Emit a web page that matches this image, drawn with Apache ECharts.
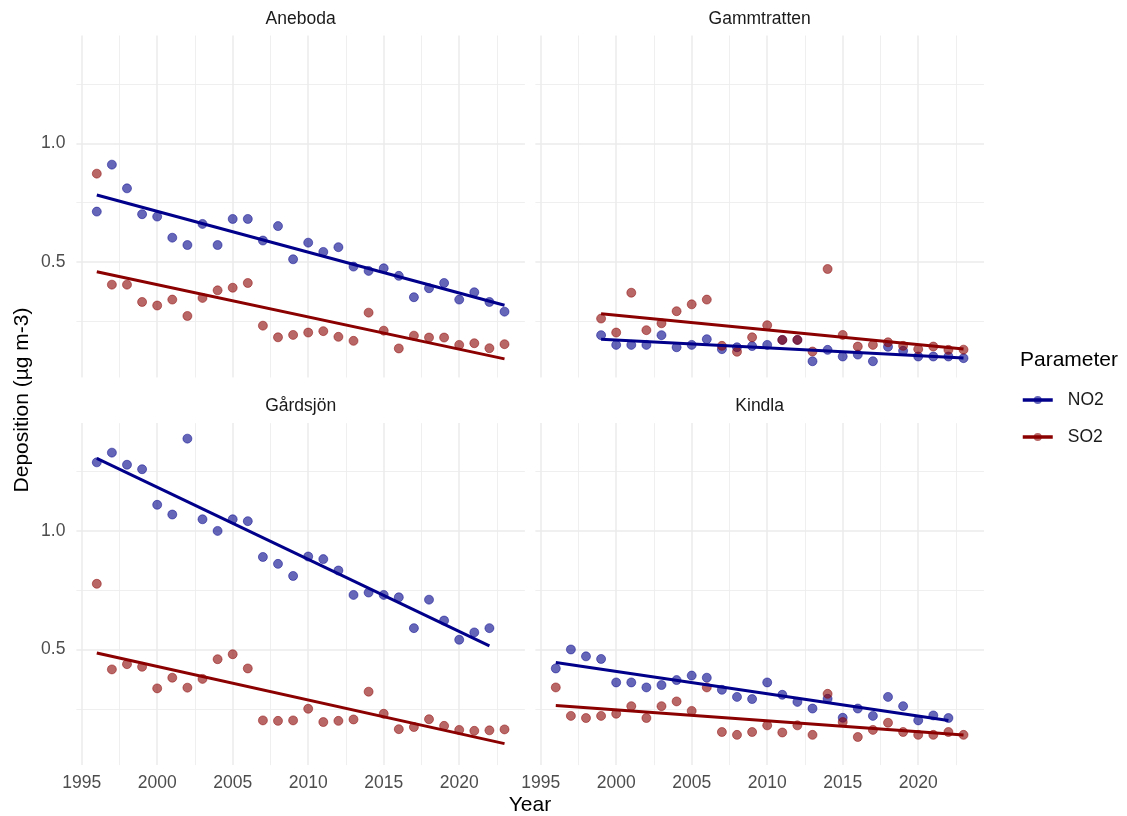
<!DOCTYPE html>
<html>
<head>
<meta charset="utf-8">
<script src="https://cdn.jsdelivr.net/npm/echarts@6.0.0/dist/echarts.min.js"></script>
<style>
  html, body { margin: 0; padding: 0; background: #ffffff; }
  #chart { width: 1127px; height: 816px; }
</style>
</head>
<body>
<div id="chart"></div>
<script>
// data read off the facets, one value per year (null = no measurement)
const years = [1996, 1997, 1998, 1999, 2000, 2001, 2002, 2003, 2004, 2005, 2006, 2007, 2008, 2009,
  2010, 2011, 2012, 2013, 2014, 2015, 2016, 2017, 2018, 2019, 2020, 2021, 2022, 2023]

const anebodaNO2 = [0.712, 0.910, 0.810, 0.701, 0.691, 0.602, 0.571, 0.660, 0.571, 0.681, 0.681, 0.590, 0.651, 0.511,
  0.581, 0.542, 0.562, 0.480, 0.462, 0.473, 0.441, 0.351, 0.389, 0.411, 0.341, 0.372, 0.331, 0.290]
const anebodaSO2 = [0.872, 0.404, 0.404, 0.331, 0.316, 0.341, 0.272, 0.348, 0.380, 0.391, 0.411, 0.231, 0.182, 0.192,
  0.202, 0.208, 0.184, 0.167, 0.286, 0.210, 0.135, 0.189, 0.181, 0.181, 0.150, 0.157, 0.136, 0.153]

const gammtrattenNO2 = [null, null, null, 0.191, 0.150, 0.150, 0.150, 0.191, 0.140, 0.150, 0.174, 0.132, 0.140, 0.145,
  0.150, 0.171, 0.171, 0.081, 0.129, 0.101, 0.109, 0.081, 0.142, 0.125, 0.101, 0.101, 0.101, 0.094]
const gammtrattenSO2 = [null, null, null, 0.261, 0.202, 0.370, 0.212, 0.241, 0.292, 0.321, 0.341, 0.146, 0.121, 0.182,
  0.233, 0.171, 0.171, 0.122, 0.470, 0.192, 0.143, 0.150, 0.161, 0.146, 0.132, 0.143, 0.129, 0.130]

const gardsjonNO2 = [1.289, 1.330, 1.279, 1.260, 1.110, 1.069, 1.389, 1.049, 1.000, 1.049, 1.041, 0.890, 0.861, 0.810,
  0.892, 0.881, 0.833, 0.730, 0.740, 0.730, 0.720, 0.590, 0.710, 0.622, 0.541, 0.572, 0.590, null]
const gardsjonSO2 = [0.777, 0.416, 0.438, 0.427, 0.336, 0.381, 0.339, 0.376, 0.459, 0.480, 0.420, 0.201, 0.199, 0.201,
  0.250, 0.194, 0.199, 0.205, 0.322, 0.229, 0.164, 0.173, 0.206, 0.178, 0.161, 0.157, 0.159, 0.163]

const kindlaNO2 = [0.420, 0.500, 0.471, 0.460, 0.361, 0.361, 0.340, 0.350, 0.371, 0.390, 0.381, 0.330, 0.300, 0.291,
  0.361, 0.309, 0.279, 0.251, 0.292, 0.212, 0.251, 0.220, 0.300, 0.261, 0.201, 0.222, 0.211, null]
const kindlaSO2 = [0.340, 0.220, 0.211, 0.220, 0.229, 0.261, 0.211, 0.261, 0.281, 0.241, 0.340, 0.152, 0.140, 0.152,
  0.180, 0.150, 0.180, 0.140, 0.313, 0.194, 0.131, 0.161, 0.191, 0.152, 0.140, 0.140, 0.152, 0.140]

// fitted trend lines, start and end
const anebodaNO2Trend = [[1996, 0.782], [2023, 0.317]]
const anebodaSO2Trend = [[1996, 0.458], [2023, 0.091]]
const gammtrattenNO2Trend = [[1999, 0.174], [2023, 0.095]]
const gammtrattenSO2Trend = [[1999, 0.281], [2023, 0.133]]
const gardsjonNO2Trend = [[1996, 1.306], [2022, 0.515]]
const gardsjonSO2Trend = [[1996, 0.485], [2023, 0.103]]
const kindlaNO2Trend = [[1996, 0.445], [2022, 0.201]]
const kindlaSO2Trend = [[1996, 0.264], [2023, 0.139]]

const stations = ['Aneboda', 'Gammtratten', 'Gårdsjön', 'Kindla']
const parameters = ['NO2', 'SO2']

// tick labels / grid lines
const xTicks = [1995, 2000, 2005, 2010, 2015, 2020]
const xMinorTicks = [1997.5, 2002.5, 2007.5, 2012.5, 2017.5, 2022.5]
const yTicks = [0.5, 1.0]
const yMinorTicks = [0.25, 0.75, 1.25]

const panelData = [
  [anebodaNO2, anebodaSO2, anebodaNO2Trend, anebodaSO2Trend],
  [gammtrattenNO2, gammtrattenSO2, gammtrattenNO2Trend, gammtrattenSO2Trend],
  [gardsjonNO2, gardsjonSO2, gardsjonNO2Trend, gardsjonSO2Trend],
  [kindlaNO2, kindlaSO2, kindlaNO2Trend, kindlaSO2Trend]
]

const FONT = '"Liberation Sans", Arial, Helvetica, sans-serif'
const lineColors = {NO2: '#00008B', SO2: '#8B0000'}
const pointColors = {NO2: 'rgba(0,0,139,0.6)', SO2: 'rgba(139,0,0,0.6)'}

const panelW = 448.5
const panelH = 342
const lefts = [76.4, 535.4]
const tops = [35.5, 423.1]
const xMin = 1994.65, xMax = 2024.35
const yMin = 0.0125, yMax = 1.4545

function toPoints(arr) {
  const out = []
  arr.forEach((v, i) => {
    if (v !== null) out.push([years[i], v])
  })
  return out
}

let chart = echarts.init(document.getElementById('chart'), null, {renderer: 'canvas'})

const grids = [], xAxes = [], yAxes = [], series = [], graphics = []

stations.forEach((name, g) => {
  const col = g % 2, row = Math.floor(g / 2)
  const left = lefts[col], top = tops[row]
  grids.push({left: left, top: top, width: panelW, height: panelH, outerBoundsMode: 'none', containLabel: false})

  // major x (labels only on bottom row), then minor x
  xAxes.push({
    type: 'value', gridIndex: g, min: xMin, max: xMax,
    axisLine: {show: false},
    axisTick: {show: false, customValues: xTicks},
    axisLabel: {show: row === 1, customValues: xTicks, color: '#4d4d4d', fontSize: 17.5, fontFamily: FONT, margin: 9,
      formatter: v => String(v)},
    splitLine: {show: true, lineStyle: {color: '#ebebeb', width: 1.5}}
  })
  xAxes.push({
    type: 'value', gridIndex: g, min: xMin, max: xMax,
    axisLine: {show: false},
    axisTick: {show: false, customValues: xMinorTicks},
    axisLabel: {show: false},
    splitLine: {show: true, lineStyle: {color: '#ebebeb', width: 0.8}}
  })
  yAxes.push({
    type: 'value', gridIndex: g, min: yMin, max: yMax,
    axisLine: {show: false},
    axisTick: {show: false, customValues: yTicks},
    axisLabel: {show: col === 0, customValues: yTicks, color: '#4d4d4d', fontSize: 17.5, fontFamily: FONT, margin: 11,
      formatter: v => v.toFixed(1)},
    splitLine: {show: true, lineStyle: {color: '#ebebeb', width: 1.5}}
  })
  yAxes.push({
    type: 'value', gridIndex: g, min: yMin, max: yMax,
    axisLine: {show: false},
    axisTick: {show: false, customValues: yMinorTicks},
    axisLabel: {show: false},
    splitLine: {show: true, lineStyle: {color: '#ebebeb', width: 0.8}}
  })

  const [no2, so2, no2Trend, so2Trend] = panelData[g]
  const xi = g * 2, yi = g * 2

  // trend lines first so the legend takes its icon from them
  ;[['NO2', no2Trend], ['SO2', so2Trend]].forEach(([p, trend]) => {
    series.push({
      name: p, type: 'line', xAxisIndex: xi, yAxisIndex: yi,
      data: trend, showSymbol: false, symbol: 'circle', z: 4,
      lineStyle: {color: lineColors[p], width: 3},
      itemStyle: {color: pointColors[p]},
      silent: true
    })
  })
  ;[['NO2', no2], ['SO2', so2]].forEach(([p, vals]) => {
    series.push({
      name: p + ' points', type: 'scatter', xAxisIndex: xi, yAxisIndex: yi,
      data: toPoints(vals), symbol: 'circle', symbolSize: 9, z: 2,
      itemStyle: {color: pointColors[p], borderColor: pointColors[p], borderWidth: 0.8, opacity: 1},
      silent: true
    })
  })

  // strip label
  graphics.push({
    type: 'text', x: left + panelW / 2, y: top - 16.5,
    style: {text: name, fill: '#1a1a1a', font: '17.5px ' + FONT, align: 'center', verticalAlign: 'middle'}
  })
})

graphics.push({
  type: 'text', x: 530, y: 805,
  style: {text: 'Year', fill: '#000000', font: '21px ' + FONT, align: 'center', verticalAlign: 'middle'}
})
graphics.push({
  type: 'text', x: 22, y: 400, rotation: Math.PI / 2,
  style: {text: 'Deposition (µg m-3)', fill: '#000000', font: '21px ' + FONT, align: 'center', verticalAlign: 'middle'}
})
graphics.push({
  type: 'text', x: 1020, y: 360,
  style: {text: 'Parameter', fill: '#000000', font: '21px ' + FONT, align: 'left', verticalAlign: 'middle'}
})

const option = {
  animation: false,
  backgroundColor: '#ffffff',
  grid: grids,
  xAxis: xAxes,
  yAxis: yAxes,
  legend: {
    data: parameters,
    orient: 'vertical',
    left: 1021,
    top: 391,
    padding: 0,
    itemWidth: 30,
    itemHeight: 10,
    itemGap: 19,
    selectedMode: false,
    lineStyle: {width: 3.5},
    textStyle: {fontSize: 17.5, fontFamily: FONT, color: '#1a1a1a', lineHeight: 18, padding: [0, 0, 0, 10]}
  },
  graphic: graphics,
  series: series
}

chart.setOption(option)
</script>
</body>
</html>
